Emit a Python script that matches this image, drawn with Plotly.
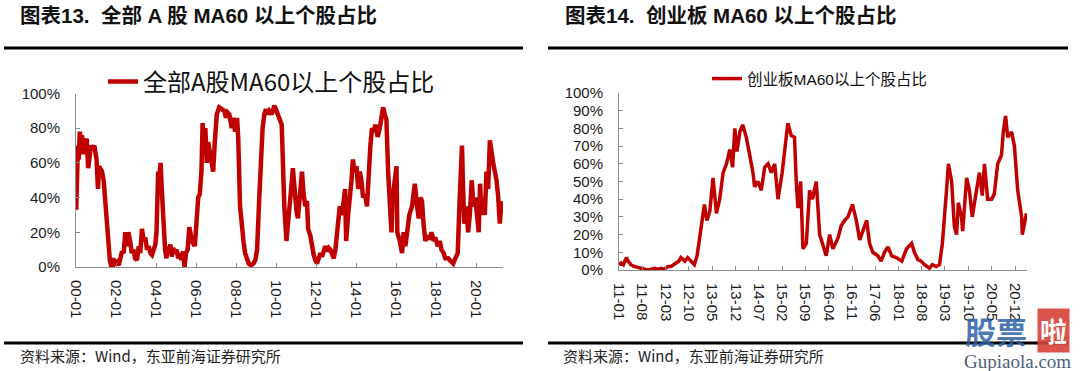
import plotly.graph_objects as go

# ---------------- data ----------------
all_a_dates = [
    "2000-01-05","2000-01-20","2000-02-05","2000-02-20","2000-03-10","2000-04-01","2000-04-20","2000-05-10",
    "2000-06-01","2000-06-25","2000-07-15","2000-08-10","2000-09-01","2000-10-01","2000-11-01","2000-12-01",
    "2001-01-10","2001-02-05","2001-02-25","2001-03-20","2001-04-20","2001-05-20","2001-06-15","2001-07-10",
    "2001-08-10","2001-09-10","2001-10-10","2001-11-10","2001-12-15","2002-01-20","2002-02-20","2002-03-20",
    "2002-04-20","2002-05-20","2002-06-20","2002-07-20","2002-08-15","2002-09-15","2002-10-15","2002-11-15",
    "2002-12-15","2003-01-20","2003-02-20","2003-03-20","2003-04-20","2003-05-20","2003-06-20","2003-07-20",
    "2003-08-20","2003-09-20","2003-10-20","2003-11-20","2003-12-20","2004-01-10","2004-01-25","2004-02-10",
    "2004-03-01","2004-03-25","2004-04-15","2004-05-05","2004-05-25","2004-06-15","2004-07-10","2004-08-01",
    "2004-08-25","2004-09-20","2004-10-15","2004-11-10","2004-12-10","2005-01-10","2005-02-10","2005-03-10",
    "2005-04-10","2005-05-10","2005-06-05","2005-07-01","2005-08-01","2005-09-01","2005-10-01","2005-11-01",
    "2005-12-10","2006-01-10","2006-02-10","2006-03-10","2006-04-10","2006-05-01","2006-05-25","2006-06-20",
    "2006-07-15","2006-08-10","2006-09-10","2006-10-10","2006-11-10","2006-12-10","2007-01-15","2007-03-01",
    "2007-04-15","2007-06-01","2007-07-01","2007-08-01","2007-09-01","2007-10-15","2007-11-15","2007-12-15",
    "2008-01-20","2008-02-10","2008-03-15","2008-04-20","2008-05-20","2008-06-15","2008-07-20","2008-08-20",
    "2008-10-01","2008-11-15","2008-12-20","2009-01-20","2009-03-01","2009-04-01","2009-05-01","2009-06-01",
    "2009-07-01","2009-08-01","2009-09-01","2009-10-15","2009-12-01","2010-01-10","2010-02-05","2010-03-10",
    "2010-04-15","2010-05-01","2010-06-01","2010-07-10","2010-08-01","2010-09-10","2010-10-01","2010-11-05",
    "2010-12-01","2011-01-10","2011-02-05","2011-03-10","2011-04-20","2011-05-20","2011-06-20","2011-07-20",
    "2011-08-10","2011-09-20","2011-10-20","2011-11-20","2011-12-20","2012-01-20","2012-02-20","2012-03-20",
    "2012-04-20","2012-05-20","2012-06-20","2012-07-20","2012-08-20","2012-09-20","2012-10-20","2012-11-20",
    "2012-12-20","2013-02-01","2013-03-10","2013-04-10","2013-05-01","2013-06-15","2013-07-05","2013-08-10",
    "2013-09-10","2013-10-10","2013-11-05","2013-12-01","2014-01-10","2014-02-10","2014-03-10","2014-04-10",
    "2014-05-10","2014-06-15","2014-07-20","2014-08-20","2014-09-20","2014-10-20","2014-11-20","2014-12-20",
    "2015-02-01","2015-03-10","2015-04-10","2015-05-10","2015-06-10","2015-07-10","2015-08-10","2015-09-01",
    "2015-10-10","2015-11-01","2015-12-10","2016-01-10","2016-01-25","2016-03-10","2016-04-20","2016-05-20",
    "2016-06-20","2016-07-20","2016-09-01","2016-10-20","2016-12-10","2017-01-20","2017-02-20","2017-03-20",
    "2017-04-20","2017-05-20","2017-06-20","2017-07-20","2017-09-01","2017-10-10","2017-11-20","2017-12-20",
    "2018-02-01","2018-03-10","2018-04-10","2018-05-20","2018-06-20","2018-08-10","2018-09-20","2018-11-10",
    "2018-12-20","2019-02-01","2019-03-10","2019-04-20","2019-05-10","2019-06-01","2019-07-10","2019-08-10",
    "2019-09-10","2019-10-15","2019-11-15","2019-12-15","2020-01-20","2020-02-20","2020-03-15","2020-04-10",
    "2020-05-10","2020-06-10","2020-07-10","2020-08-10","2020-09-10","2020-10-10","2020-11-10","2020-12-10",
    "2021-01-10","2021-02-10","2021-03-10","2021-04-15",
]
all_a_values = [
    33, 55, 70, 62, 78, 72, 76, 65,
    74, 70, 74, 57, 62, 70, 68, 70,
    62, 45, 58, 56, 55, 50, 38, 25,
    12, 4, 0, 5, 2, 3, 1, 5,
    9, 8, 20, 12, 20, 15, 8, 10,
    5, 4, 12, 8, 22, 15, 17, 10,
    12, 8, 7, 10, 13, 20, 48, 55,
    52, 60, 45, 28, 15, 10, 5, 12,
    8, 13, 6, 11, 8, 10, 5, 8,
    4, 9, 0, 8, 10, 23, 18, 14,
    12, 25, 40, 42, 55, 83, 72, 80,
    60, 72, 65, 60, 55, 72, 88, 92,
    91, 90, 86, 89, 88, 80, 86, 78,
    86, 75, 35, 20, 14, 8, 5, 2,
    1, 2, 4, 10, 40, 65, 80, 88,
    91, 88, 90, 88, 93, 90, 87, 85,
    82, 60, 35, 15, 25, 42, 44, 57,
    45, 32, 28, 44, 55, 42, 35, 38,
    22, 18, 10, 7, 4, 2, 5, 8,
    6, 10, 12, 9, 11, 10, 8, 5,
    10, 25, 35, 30, 33, 45, 15, 30,
    45, 50, 62, 55, 58, 45, 55, 50,
    40, 42, 35, 55, 70, 80, 78, 82,
    75, 80, 86, 92, 88, 85, 55, 40,
    20, 40, 50, 58, 20, 15, 8, 20,
    12, 18, 30, 35, 48, 35, 28, 40,
    38, 24, 15, 18, 16, 20, 15, 17,
    12, 15, 10, 8, 5, 5, 4, 2,
    5, 8, 40, 70, 45, 25, 35, 20,
    30, 50, 35, 40, 30, 20, 48, 30,
    40, 30, 55, 45, 73, 65, 60, 55,
    50, 40, 25, 38,
]

gem_dates = [
    "2011-01-01","2011-01-20","2011-02-10","2011-03-10","2011-03-25","2011-04-20","2011-05-20","2011-06-20",
    "2011-07-20","2011-08-20","2011-09-20","2011-10-20","2011-11-20","2011-12-20","2012-01-20","2012-02-20",
    "2012-03-25","2012-04-20","2012-05-10","2012-06-10","2012-07-01","2012-07-20","2012-08-10","2012-08-25",
    "2012-09-20","2012-10-20","2012-11-20","2012-12-15","2013-01-10","2013-02-05","2013-02-20","2013-03-15",
    "2013-04-10","2013-05-10","2013-06-10","2013-07-10","2013-08-10","2013-09-10","2013-10-10","2013-11-05",
    "2013-11-25","2013-12-15","2014-01-10","2014-02-05","2014-03-10","2014-04-10","2014-05-10","2014-05-25",
    "2014-06-25","2014-07-25","2014-08-25","2014-09-25","2014-10-25","2014-11-25","2014-12-25","2015-02-01",
    "2015-02-25","2015-03-25","2015-04-25","2015-05-25","2015-06-10","2015-06-25","2015-07-20","2015-08-10",
    "2015-09-10","2015-10-10","2015-11-05","2015-12-10","2016-01-10","2016-02-05","2016-03-10","2016-04-10",
    "2016-05-10","2016-06-25","2016-07-25","2016-08-25","2016-09-25","2016-11-05","2016-12-10","2017-01-10",
    "2017-02-05","2017-03-15","2017-04-10","2017-05-10","2017-06-25","2017-07-25","2017-08-25","2017-09-25",
    "2017-10-30","2017-12-10","2018-01-30","2018-03-15","2018-04-30","2018-05-25","2018-06-25","2018-07-25",
    "2018-08-25","2018-10-10","2018-11-05","2018-12-10","2019-01-10","2019-02-05","2019-03-15","2019-04-01",
    "2019-05-01","2019-05-25","2019-06-15","2019-07-01","2019-07-30","2019-08-10","2019-09-15","2019-10-10",
    "2019-11-05","2019-12-15","2020-01-10","2020-02-05","2020-02-25","2020-03-25","2020-04-30","2020-05-25",
    "2020-06-25","2020-07-30","2020-08-15","2020-09-05","2020-09-25","2020-10-30","2020-11-25","2020-12-25",
    "2021-01-30","2021-02-05","2021-02-25","2021-03-15",
]
gem_values = [
    3, 4, 3, 7, 5, 3, 2, 1.5,
    1, 1, 0, 0.5, 1, 0.5, 1, 0.5,
    2, 2, 3, 4, 5, 7, 6, 5,
    7, 5, 3, 8, 20, 30, 37, 28,
    33, 52, 32, 40, 55, 60, 68, 58,
    80, 67, 78, 82, 75, 65, 55, 47,
    50, 45, 58, 60, 55, 60, 40, 55,
    70, 83, 76, 75, 50, 35, 50, 12,
    15, 45, 40, 50, 20, 15, 8, 20,
    12, 18, 25, 28, 30, 37, 28, 17,
    22, 28, 15, 10, 8, 5, 10, 13,
    8, 7, 5, 12, 15, 10, 6, 5,
    3, 1, 3, 2, 3, 15, 45, 60,
    50, 25, 20, 38, 30, 22, 52, 45,
    30, 45, 55, 42, 60, 40, 40, 43,
    60, 65, 78, 87, 75, 78, 70, 45,
    30, 20, 28, 32,
]

left_title = "图表13.  全部 A 股 MA60 以上个股占比"
right_title = "图表14.  创业板 MA60 以上个股占比"
left_series = "全部A股MA60以上个股占比"
right_series = "创业板MA60以上个股占比"
source_text = "资料来源：Wind，东亚前海证券研究所"

# ---------------- figure ----------------
W, H = 1080, 371
RED = "#C00000"
AXC = "#8c8c8c"
CJK = "Noto Sans CJK SC"
LAT = "Liberation Sans, Arial, Noto Sans CJK SC"


def px(x):
    return x / W


def py(y):
    return 1 - y / H


fig = go.Figure()
fig.add_trace(go.Scatter(x=all_a_dates, y=all_a_values, mode="lines", name=left_series,
                         line=dict(color=RED, width=4.5), xaxis="x", yaxis="y", legend="legend"))
fig.add_trace(go.Scatter(x=gem_dates, y=gem_values, mode="lines", name=right_series,
                         line=dict(color=RED, width=3.5), xaxis="x2", yaxis="y2", legend="legend2"))

common_x = dict(type="date", tickformat="%y-%m", tickangle=90, ticks="inside", ticklen=4,
                tickcolor=AXC, showline=True, linecolor=AXC, linewidth=1, showgrid=False,
                zeroline=False, tickfont=dict(family=LAT, size=15, color="#1a1a1a"),
                ticklabelstandoff=9, fixedrange=True, automargin=False)
common_y = dict(range=[0, 100], ticksuffix="%", ticks="inside", ticklen=4, tickcolor=AXC,
                showline=True, linecolor=AXC, linewidth=1, showgrid=False, zeroline=False,
                tickfont=dict(family=LAT, size=15, color="#1a1a1a"), ticklabelstandoff=12,
                fixedrange=True, automargin=False)

fig.update_layout(
    width=W, height=H, margin=dict(l=0, r=0, t=0, b=0, autoexpand=False),
    paper_bgcolor="white", plot_bgcolor="white",
    xaxis=dict(common_x, domain=[px(76), px(503)], anchor="y",
               range=["2000-01-01", "2021-05-08"], tick0="2000-01-01", dtick="M24"),
    yaxis=dict(common_y, domain=[py(267), py(93.5)], anchor="x", dtick=20),
    xaxis2=dict(common_x, domain=[px(619), px(1027)], anchor="y2",
                range=["2011-01-01", "2021-03-20"], tick0="2011-01-01", dtick="M7"),
    yaxis2=dict(common_y, domain=[py(270), py(93)], anchor="x2", dtick=10),
    legend=dict(x=px(103), y=py(82), xanchor="left", yanchor="middle",
                bgcolor="rgba(0,0,0,0)", font=dict(family=CJK, size=24, color="#111")),
    legend2=dict(x=px(707), y=py(79), xanchor="left", yanchor="middle",
                 bgcolor="rgba(0,0,0,0)", font=dict(family=LAT, size=15.5, color="#111")),
    showlegend=True,
)

# header / footer rules
for x0, x1 in [(4, 523), (548, 1068)]:
    for yy in (48, 343):
        fig.add_shape(type="line", xref="paper", yref="paper", x0=px(x0), x1=px(x1),
                      y0=py(yy), y1=py(yy), line=dict(color="black", width=3))

# titles
for x, t in [(18, left_title), (563, right_title)]:
    fig.add_annotation(text="<b>" + t + "</b>", xref="paper", yref="paper", x=px(x), y=py(15),
                       xanchor="left", yanchor="middle", showarrow=False,
                       font=dict(family=LAT, size=20.5, color="#111"))

# sources
for x in (18, 561):
    fig.add_annotation(text=source_text, xref="paper", yref="paper", x=px(x), y=py(355),
                       xanchor="left", yanchor="middle", showarrow=False,
                       font=dict(family=CJK, size=15, color="#222"))

# watermark
fig.add_annotation(text="<b>股票</b>", xref="paper", yref="paper", x=px(963), y=py(330),
                   xanchor="left", yanchor="middle", showarrow=False,
                   font=dict(family=CJK, size=31, color="rgba(45,95,165,0.85)"))
fig.add_annotation(text="<b>啦</b>", xref="paper", yref="paper", x=px(1053), y=py(330),
                   xanchor="center", yanchor="middle", showarrow=False,
                   bgcolor="rgba(215,65,55,0.9)", borderpad=2,
                   font=dict(family=CJK, size=27, color="white"))
fig.add_annotation(text="Gupiaola.com", xref="paper", yref="paper", x=px(1018), y=py(361),
                   xanchor="center", yanchor="middle", showarrow=False,
                   font=dict(family="Liberation Serif", size=19, color="#4d5f78"))

fig.write_html(
    "out.html",
    config={"displayModeBar": False},
    post_script="document.body.style.margin='0';document.body.style.overflow='hidden';",
)
